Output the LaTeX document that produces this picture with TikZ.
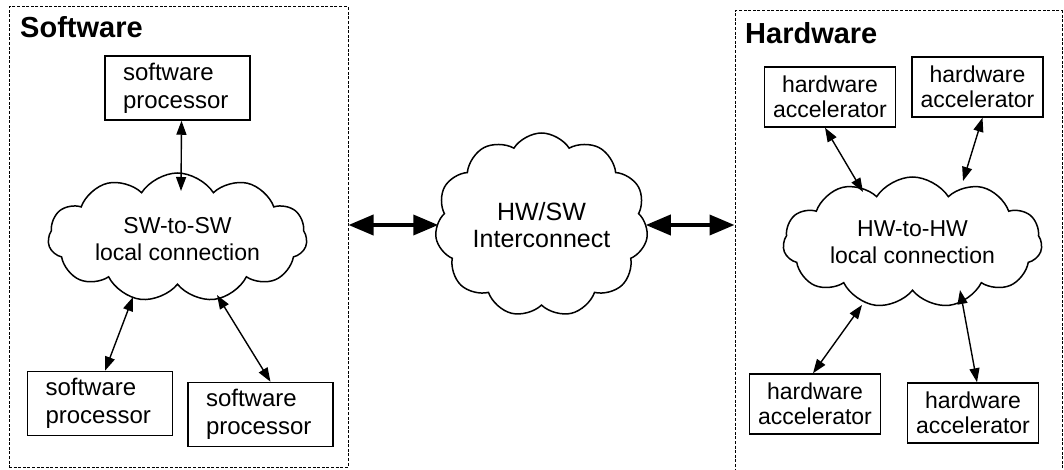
\documentclass[tikz,border=0pt]{standalone}
\usepackage{fontspec}
\setmainfont{Liberation Sans}
\usetikzlibrary{shapes.symbols,arrows.meta,calc}
\tikzset{
  region/.style={draw, line width=1pt, dash pattern=on 3pt off 1.6pt, rectangle, inner sep=0pt},
  title/.style={font=\fontsize{29}{32}\selectfont\bfseries, anchor=west, inner sep=0pt},
  swproc/.style={draw, line width=1.5pt, rectangle, font=\fontsize{24}{28}\selectfont, align=left, text width=109pt, inner xsep=18pt, minimum height=64pt, inner ysep=2pt},
  hwacc/.style={draw, line width=1.5pt, rectangle, font=\fontsize{23}{25}\selectfont, align=center, minimum width=131pt, minimum height=60pt, inner sep=2pt},
  net/.style={draw, line width=1.5pt, cloud, cloud puffs=11, cloud puff arc=115, cloud ignores aspect, font=\fontsize{23}{27}\selectfont, align=center, inner sep=0pt},
  link/.style={arrows={Triangle[length=14pt,width=10pt]-Triangle[length=14pt,width=10pt]}, line width=1.4pt},
  biglink/.style={arrows={Triangle[length=25pt,width=20pt]-Triangle[length=25pt,width=20pt]}, line width=3.8pt}
}
\begin{document}
\begin{tikzpicture}[x=1pt,y=-1pt]
\useasboundingbox (0,0) rectangle (1064,470);
\begin{scope}
\clip (0,0) rectangle (1064,470);
% regions
\node[region, minimum width=339pt, minimum height=460pt] (swbox) at (178.5,237) {};
\node[region, minimum width=327pt, minimum height=480pt] (hwbox) at (898.5,251) {};
\end{scope}
\node[title] (swtitle) at (20,27) {Software};
\node[title] (hwtitle) at (745,33) {Hardware};

% software side
\node[swproc] (sp1) at (177.5,88) {software\\processor};
\node[swproc] (sp2) at (100,403.5) {software\\processor};
\node[swproc] (sp3) at (260.5,414.5) {software\\processor};
\node[net, minimum width=259pt, minimum height=129pt] (swc) at (177.5,237.5) {\strut SW-to-SW\\local connection};

% middle
\node[net, minimum width=213pt, minimum height=184pt, font=\fontsize{25}{27}\selectfont] (ic) at (541.5,225) {HW/SW\\Interconnect};

% hardware side
\node[hwacc] (hw1) at (830,97) {hardware\\accelerator};
\node[hwacc] (hw2) at (977.5,87) {hardware\\accelerator};
\node[hwacc] (hw3) at (815,404) {hardware\\accelerator};
\node[hwacc] (hw4) at (973,413) {hardware\\accelerator};
\node[net, minimum width=259pt, minimum height=131pt] (hwc) at (912.5,242.5) {HW-to-HW\\local connection};

% cloud attachment points
\coordinate (swcT) at (181,191);
\coordinate (swcBL) at (133,297);
\coordinate (swcBR) at (217,295);
\coordinate (hwcTL) at (863,192);
\coordinate (hwcTR) at (963,181);
\coordinate (hwcBL) at (862,305);
\coordinate (hwcBR) at (960,290);

% thin links
\draw[link] ([xshift=4pt]sp1.south) -- (swcT);
\draw[link] (swcBL) -- ([xshift=5pt]sp2.north);
\draw[link] (swcBR) -- ([xshift=10pt]sp3.north);
\draw[link] ([xshift=-5pt]hw1.south) -- (hwcTL);
\draw[link] ([xshift=5pt]hw2.south) -- (hwcTR);
\draw[link] (hwcBL) -- ([xshift=-2pt]hw3.north);
\draw[link] (hwcBR) -- ([xshift=4pt]hw4.north);

% thick links
\draw[biglink] (swbox.east |- ic.west) -- ([xshift=2pt]ic.west);
\draw[biglink] ([xshift=-1pt]ic.east) -- (hwbox.west |- ic.east);
\end{tikzpicture}
\end{document}
